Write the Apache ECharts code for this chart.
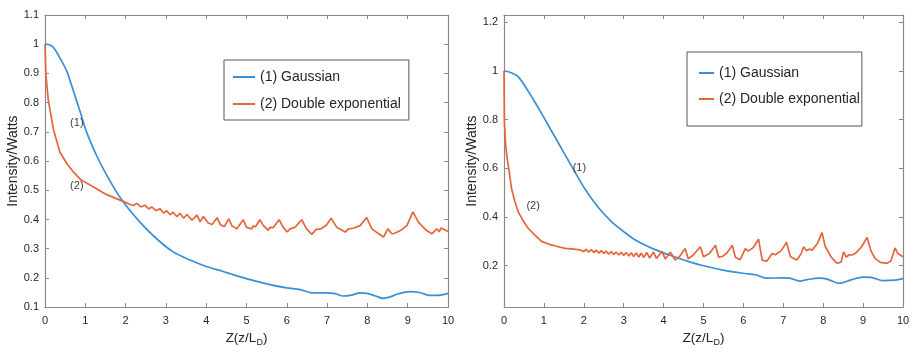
<!DOCTYPE html>
<html><head><meta charset="utf-8">
<script src="https://cdn.jsdelivr.net/npm/echarts@6/dist/echarts.min.js"></script>
<style>html,body{margin:0;padding:0;background:#fff}#c{width:916px;height:352px}</style>
</head><body><div id="c"></div>
<script>
// ---- data ----
const xTicks = [0,1,2,3,4,5,6,7,8,9,10];
const leftYTicks = [0.1,0.2,0.3,0.4,0.5,0.6,0.7,0.8,0.9,1,1.1];
const rightYTicks = [0.2,0.4,0.6,0.8,1,1.2];
const seriesNames = ['(1) Gaussian', '(2) Double exponential'];

const leftGaussZ = [0,0.08,0.17,0.27,0.37,0.54,0.70,0.87,1.03,1.28,1.53,1.9,2.36,2.77,3.18,3.6,4.0,4.42,4.6,5.09,5.58,6.0,6.33,6.62,7.0,7.2,7.4,7.6,7.82,8.02,8.2,8.4,8.57,8.73,9.06,9.3,9.55,9.8,10];
const leftGaussI = [1.0,0.999,0.994,0.977,0.953,0.908,0.842,0.77,0.70,0.619,0.552,0.468,0.39,0.334,0.289,0.261,0.239,0.222,0.214,0.194,0.177,0.166,0.16,0.149,0.149,0.146,0.138,0.141,0.149,0.146,0.138,0.13,0.135,0.144,0.153,0.15,0.14,0.141,0.147];

const leftDoubleZ = [0,0.02,0.08,0.21,0.37,0.55,0.70,0.9,1.12,1.53,1.94,2.1,2.2,2.28,2.38,2.48,2.57,2.65,2.75,2.85,2.94,3.02,3.1,3.18,3.27,3.35,3.44,3.52,3.65,3.77,3.85,3.93,4.05,4.15,4.27,4.35,4.45,4.56,4.64,4.76,4.92,5.0,5.13,5.17,5.22,5.33,5.42,5.54,5.58,5.66,5.81,5.91,6.01,6.08,6.2,6.37,6.49,6.62,6.73,6.85,6.98,7.10,7.24,7.45,7.53,7.65,7.82,7.98,8.11,8.28,8.4,8.51,8.6,8.65,8.82,8.98,9.13,9.27,9.47,9.6,9.72,9.78,9.83,9.95,10];
const leftDoubleI = [1.0,0.90,0.81,0.708,0.63,0.59,0.563,0.535,0.518,0.485,0.462,0.452,0.448,0.455,0.443,0.449,0.436,0.443,0.430,0.437,0.422,0.430,0.416,0.425,0.410,0.421,0.404,0.417,0.398,0.415,0.392,0.410,0.388,0.383,0.406,0.382,0.376,0.402,0.378,0.368,0.399,0.373,0.368,0.379,0.374,0.399,0.379,0.363,0.373,0.372,0.399,0.373,0.357,0.368,0.373,0.399,0.368,0.349,0.366,0.368,0.38,0.404,0.373,0.357,0.368,0.37,0.379,0.407,0.368,0.351,0.340,0.368,0.352,0.351,0.362,0.379,0.426,0.39,0.362,0.351,0.368,0.358,0.371,0.362,0.36];

const rightGaussZ = [0,0.15,0.36,0.69,1.03,1.36,1.69,2.03,2.36,2.7,3.0,3.3,3.82,4.25,4.65,5.0,5.49,5.99,6.3,6.57,7.0,7.16,7.41,7.6,7.91,8.1,8.41,8.7,9.0,9.2,9.5,9.8,10];
const rightGaussI = [1.0,0.995,0.976,0.895,0.80,0.705,0.61,0.515,0.44,0.38,0.34,0.305,0.264,0.238,0.216,0.2,0.182,0.169,0.163,0.149,0.15,0.149,0.137,0.143,0.149,0.145,0.128,0.142,0.153,0.152,0.139,0.141,0.147];

const rightDoubleZ = [0,0.01,0.04,0.07,0.13,0.19,0.27,0.36,0.48,0.61,0.75,0.94,1.1,1.31,1.53,1.75,1.9,2.0,2.06,2.12,2.19,2.25,2.31,2.38,2.44,2.5,2.56,2.62,2.69,2.75,2.81,2.88,2.94,3.0,3.06,3.13,3.19,3.25,3.31,3.38,3.44,3.5,3.58,3.65,3.75,3.82,3.96,4.04,4.17,4.29,4.4,4.54,4.62,4.75,4.92,5.0,5.15,5.3,5.38,5.5,5.6,5.72,5.8,5.92,6.05,6.12,6.25,6.38,6.47,6.59,6.72,6.8,6.95,7.08,7.18,7.34,7.45,7.51,7.58,7.65,7.72,7.85,7.97,8.05,8.2,8.35,8.45,8.51,8.58,8.65,8.72,8.8,8.95,9.1,9.2,9.3,9.43,9.6,9.7,9.8,9.87,10];
const rightDoubleI = [1.0,0.79,0.70,0.652,0.585,0.516,0.465,0.42,0.385,0.353,0.33,0.30,0.29,0.28,0.271,0.268,0.265,0.258,0.268,0.256,0.266,0.254,0.264,0.252,0.262,0.25,0.26,0.248,0.258,0.246,0.256,0.244,0.255,0.242,0.254,0.24,0.253,0.238,0.252,0.236,0.252,0.234,0.254,0.232,0.256,0.23,0.259,0.228,0.256,0.223,0.238,0.271,0.228,0.245,0.278,0.237,0.25,0.284,0.235,0.24,0.255,0.284,0.235,0.225,0.27,0.26,0.275,0.309,0.223,0.219,0.25,0.245,0.262,0.296,0.237,0.223,0.25,0.278,0.262,0.268,0.264,0.29,0.336,0.28,0.235,0.21,0.215,0.257,0.235,0.245,0.244,0.25,0.275,0.316,0.26,0.23,0.214,0.21,0.22,0.273,0.25,0.237];

// annotation labels: [z, intensity, text]
const leftNotes = [[0.79, 0.731, '(1)'], [0.79, 0.516, '(2)']];
const rightNotes = [[1.89, 0.60, '(1)'], [0.73, 0.445, '(2)']];

// ---- chart ----
const BLUE = '#3a8fd6', ORANGE = '#e3673b', AX = '#8a8a8a', TXT = '#262626';
const zip = (a, b) => a.map((v, i) => [v, b[i]]);
const font = "'Liberation Sans', Arial, sans-serif";

function xAx(grid, bottom) {
  return {
    type: 'value', gridIndex: grid, min: 0, max: 10, interval: 1,
    position: bottom ? 'bottom' : 'top',
    axisLine: { show: true, onZero: false, lineStyle: { color: AX, width: 1.2 } },
    axisTick: { show: true, inside: true, length: 4, lineStyle: { color: AX } },
    axisLabel: { show: bottom, color: TXT, fontSize: 11, margin: 8, fontFamily: font },
    splitLine: { show: false },
    name: bottom ? '{a|Z(z/L}{b|D}{a|)}' : '',
    nameLocation: 'middle', nameGap: 21,
    nameTextStyle: { rich: {
      a: { fontSize: 13.5, color: TXT, fontFamily: font },
      b: { fontSize: 9, color: TXT, fontFamily: font, padding: [9, 0, 0, 0] }
    } }
  };
}
function yAx(grid, left, min, max, ticks, gap) {
  return {
    type: 'value', gridIndex: grid, min: min, max: max,
    position: left ? 'left' : 'right',
    axisLine: { show: true, onZero: false, lineStyle: { color: AX, width: 1.2 } },
    axisTick: { show: true, inside: true, length: 4, customValues: ticks, lineStyle: { color: AX } },
    axisLabel: { show: left, customValues: ticks, color: TXT, fontSize: 11, margin: 6, fontFamily: font },
    splitLine: { show: false },
    name: left ? 'Intensity/Watts' : '',
    nameLocation: 'middle', nameGap: gap, nameRotate: 90,
    nameTextStyle: { color: TXT, fontSize: 14, fontFamily: font }
  };
}
function notes(list) {
  return {
    symbol: 'circle', symbolSize: 0, silent: true,
    label: { show: true, position: 'inside', color: '#404040', fontSize: 11, fontFamily: font, formatter: p => p.data.name },
    data: list.map(n => ({ coord: [n[0], n[1]], name: n[2] }))
  };
}
function line(name, color, xi, yi, data, mp, smooth) {
  return {
    type: 'line', name: name, xAxisIndex: xi, yAxisIndex: yi, data: data,
    showSymbol: false, symbol: 'none', smooth: smooth,
    lineStyle: { color: color, width: 1.7 }, itemStyle: { color: color },
    markPoint: mp
  };
}
const legendBase = {
  orient: 'vertical', borderColor: '#555', borderWidth: 1, backgroundColor: '#fff',
  icon: 'rect', itemHeight: 2,
  textStyle: { fontSize: 14, color: TXT, fontFamily: font, lineHeight: 14 },
  data: seriesNames, selectedMode: false
};

const chart = echarts.init(document.getElementById('c'), null, { renderer: 'canvas' });
chart.setOption({
  animation: false,
  backgroundColor: '#fff',
  grid: [
    { left: 45, right: 468, top: 15, bottom: 39 },
    { left: 504, right: 13, top: 15, bottom: 39 }
  ],
  xAxis: [xAx(0, true), xAx(0, false), xAx(1, true), xAx(1, false)],
  yAxis: [
    yAx(0, true, 0.1, 1.1, leftYTicks, 25),
    yAx(0, false, 0.1, 1.1, leftYTicks, 0),
    yAx(1, true, 0.03, 1.23, rightYTicks, 19),
    yAx(1, false, 0.03, 1.23, rightYTicks, 0)
  ],
  legend: [
    Object.assign({}, legendBase, { left: 224, top: 60, padding: [10, 8, 9, 9], itemGap: 13, itemWidth: 22 }),
    Object.assign({}, legendBase, { left: 687, top: 52, padding: [14, 2, 20, 12], itemGap: 12, itemWidth: 15 })
  ],
  series: [
    line(seriesNames[0], BLUE, 0, 0, zip(leftGaussZ, leftGaussI), notes([leftNotes[0]]), 0.3),
    line(seriesNames[1], ORANGE, 0, 0, zip(leftDoubleZ, leftDoubleI), notes([leftNotes[1]]), false),
    line(seriesNames[0], BLUE, 2, 2, zip(rightGaussZ, rightGaussI), notes([rightNotes[0]]), 0.3),
    line(seriesNames[1], ORANGE, 2, 2, zip(rightDoubleZ, rightDoubleI), notes([rightNotes[1]]), false)
  ]
});
</script></body></html>
